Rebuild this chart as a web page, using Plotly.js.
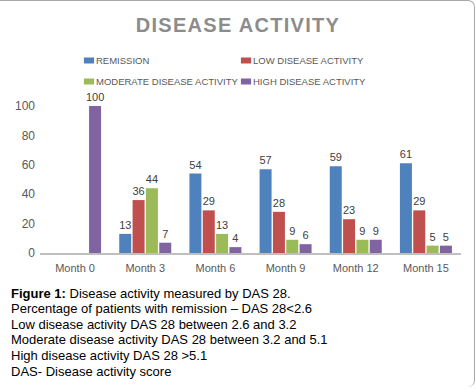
<!DOCTYPE html>
<html><head><meta charset="utf-8">
<script src="https://cdn.plot.ly/plotly-3.0.1.min.js"></script>
<style>
html,body{margin:0;padding:0;background:#fff;}
#wrap{position:relative;width:476px;height:390px;overflow:hidden;}
#frame{position:absolute;left:-10px;top:0px;width:485px;height:387px;border-top:1px solid #a8a8a8;border-right:1px solid #a8a8a8;border-top-right-radius:7px;border-bottom-right-radius:7px;box-sizing:border-box;pointer-events:none;z-index:5;}
#chart{position:absolute;left:0;top:0;width:476px;height:390px;}
.gtitle{letter-spacing:1.3px;}
</style>
</head><body>
<div id="wrap"><div id="chart"></div><div id="frame"></div></div>
<script>
var categories = ["Month 0","Month 3","Month 6","Month 9","Month 12","Month 15"];
var remission = [null,13,54,57,59,61];
var lowActivity = [null,36,29,28,23,29];
var moderateActivity = [null,44,13,9,9,5];
var highActivity = [100,7,4,6,9,5];
var seriesNames = ["REMISSION","LOW DISEASE ACTIVITY","MODERATE DISEASE ACTIVITY","HIGH DISEASE ACTIVITY"];
var seriesColors = ["#4F81BD","#C0504D","#9BBB59","#8064A2"];
var yTicks = [0,20,40,60,80,100];
var captionLines = [
  "<b>Figure 1:</b> Disease activity measured by DAS 28.",
  "Percentage of patients with remission \u2013 DAS 28<2.6",
  "Low disease activity DAS 28 between 2.6 and 3.2",
  "Moderate disease activity DAS 28 between 3.2 and 5.1",
  "High disease activity DAS 28 >5.1",
  "DAS- Disease activity score"
];

var legendOf = ["legend","legend2","legend","legend2"];
var allSeries = [remission, lowActivity, moderateActivity, highActivity];
var traces = allSeries.map(function(vals, i){
  return {
    type:"bar", x:categories, y:vals, name:seriesNames[i], legend:legendOf[i], legendgroup:"g"+i,
    marker:{color:seriesColors[i], line:{width:0}},
    text:vals.map(function(v){return v===null?"":String(v);}),
    textposition:"outside", cliponaxis:false, constraintext:"none",
    textfont:{family:"Liberation Sans, Arial, sans-serif", size:11, color:"#404040"},
    hoverinfo:"skip"
  };
});

var plotTop = 106, plotBottom = 253, plotLeft = 40, plotRight = 461;
var ph = plotBottom - plotTop, pw = plotRight - plotLeft;
function py(px){ return (plotBottom - px)/ph; }
function pxX(px){ return (px - plotLeft)/pw; }

var annotations = captionLines.map(function(t, i){
  return {text:t, xref:"paper", yref:"paper", x:pxX(9), y:py(293 + i*15.6),
    xanchor:"left", yanchor:"middle", showarrow:false, align:"left",
    font:{family:"Liberation Sans, Arial, sans-serif", size:13, color:"#000"}};
});

var legendFont = {family:"Liberation Sans, Arial, sans-serif", size:9.5, color:"#595959"};
var layout = {
  width:476, height:390,
  margin:{l:plotLeft, r:476-plotRight, t:plotTop, b:390-plotBottom, pad:0},
  paper_bgcolor:"#fff", plot_bgcolor:"#fff",
  title:{text:"DISEASE ACTIVITY", x:0.5, xref:"container", y:1-25/390, yref:"container", yanchor:"middle",
    font:{family:"Liberation Sans, Arial, sans-serif", size:20, color:"#8c8c8c", weight:"bold"}},
  barmode:"group", bargap:0.24, bargroupgap:0.1,
  showlegend:true,
  legend:{orientation:"v", x:pxX(56), xanchor:"left", y:py(46), yanchor:"top", tracegroupgap:2,
    traceorder:"grouped", font:legendFont, bgcolor:"rgba(0,0,0,0)"},
  legend2:{orientation:"v", x:pxX(213), xanchor:"left", y:py(46), yanchor:"top", tracegroupgap:2,
    traceorder:"grouped", font:legendFont, bgcolor:"rgba(0,0,0,0)"},
  xaxis:{type:"category", showline:true, linecolor:"#bfbfbf", linewidth:2, ticks:"", showgrid:false,
    ticklabelstandoff:4,
    tickfont:{family:"Liberation Sans, Arial, sans-serif", size:11, color:"#595959"}, fixedrange:true},
  yaxis:{range:[0,100], tickvals:yTicks, ticks:"", showgrid:false, zeroline:false, showline:false,
    ticklabelstandoff:4,
    tickfont:{family:"Liberation Sans, Arial, sans-serif", size:12, color:"#595959"}, fixedrange:true},
  annotations:annotations
};
Plotly.newPlot("chart", traces, layout, {staticPlot:true, displayModeBar:false}).then(function(gd){
  // move the legend swatches right next to their labels, as small flat keys
  var pts = gd.querySelectorAll("g.legendpoints");
  for (var k = 0; k < pts.length; k++) {
    pts[k].setAttribute("transform", "translate(33,0) scale(0.85,0.5) translate(-20,0)");
  }
});
</script>
</body></html>
